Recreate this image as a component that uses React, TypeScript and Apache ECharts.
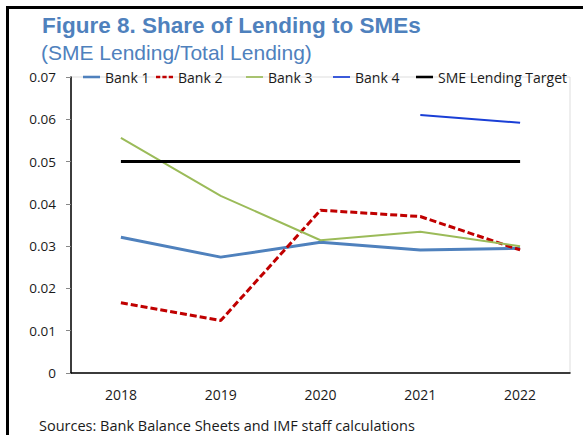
import React, { useEffect, useRef } from "react";
import * as echarts from "echarts";

const years = ["2018", "2019", "2020", "2021", "2022"];
const bank1 = [0.0321, 0.0274, 0.0309, 0.0291, 0.0295];
const bank2 = [0.0166, 0.0124, 0.0385, 0.0370, 0.0291];
const bank3 = [0.0556, 0.0419, 0.0314, 0.0334, 0.0300];
const bank4 = [null, null, null, 0.0610, 0.0592];
const target = [0.05, 0.05, 0.05, 0.05, 0.05];
const seriesNames = ["Bank 1", "Bank 2", "Bank 3", "Bank 4", "SME Lending Target"];

const FONT = "'Open Sans', 'Noto Sans', sans-serif";

export default function App() {
  const ref = useRef<HTMLDivElement>(null);
  useEffect(() => {
    if (!ref.current) return;
    const chart = echarts.init(ref.current, null, { renderer: "svg" });
    const line = (name: string, data: any[], color: string, width: number, type: any = "solid") => ({
      name,
      type: "line",
      data,
      symbol: "none",
      showSymbol: false,
      lineStyle: { color, width, type },
      itemStyle: { color },
      connectNulls: false,
    });
    const solid = "path://M0,0h20v3H0z";
    const thin = "path://M0,0h20v2H0z";
    const dashed = "path://M0,0h5v3H0zM7.5,0h5v3h-5zM15,0h5v3h-5z";
    const legendLefts = [83, 156, 246, 333, 416];
    const legendIcons = [solid, dashed, thin, thin, solid];
    const legends = seriesNames.map((n, i) => ({
      data: [n],
      left: legendLefts[i],
      top: 70,
      padding: 0,
      itemWidth: 17,
      itemHeight: legendIcons[i] === thin ? 2 : 3,
      icon: legendIcons[i],
      selectedMode: false,
      textStyle: { fontFamily: FONT, fontSize: 14, color: "#1a1a1a" },
    }));
    chart.setOption({
      animation: false,
      backgroundColor: "#ffffff",
      title: [
        {
          text: "Figure 8. Share of Lending to SMEs",
          left: 37,
          top: 9,
          textStyle: { fontFamily: "'Liberation Sans', Arial, sans-serif", fontWeight: "bold", fontSize: 22.5, color: "#4f81bd" },
        },
        {
          text: "(SME Lending/Total Lending)",
          left: 36,
          top: 37,
          textStyle: { fontFamily: "'Liberation Sans', Arial, sans-serif", fontWeight: "normal", fontSize: 21, color: "#4f81bd" },
        },
      ],
      legend: legends,
      grid: {
        left: 71,
        right: 13,
        top: 77,
        bottom: 62,
        show: true,
        borderColor: "#dddddd",
        borderWidth: 1,
        backgroundColor: "transparent",
      },
      xAxis: {
        type: "category",
        data: years,
        boundaryGap: true,
        axisLine: { lineStyle: { color: "#000", width: 1.5 } },
        axisTick: { inside: true, length: 4, lineStyle: { color: "#888" } },
        axisLabel: { fontFamily: FONT, fontSize: 14, color: "#1a1a1a", margin: 14 },
        splitLine: { show: false },
      },
      yAxis: {
        type: "value",
        min: 0,
        max: 0.07,
        interval: 0.01,
        axisLine: { show: true, lineStyle: { color: "#000", width: 1.5 } },
        axisTick: { show: true, length: 5, lineStyle: { color: "#888" } },
        axisLabel: {
          fontFamily: FONT,
          fontSize: 13.5,
          color: "#1a1a1a",
          margin: 15,
          formatter: (v: number) => (v === 0 ? "0" : v.toFixed(2)),
        },
        splitLine: { show: false },
      },
      graphic: [
        { type: "rect", shape: { x: 6, y: 6, width: 3, height: 429 }, style: { fill: "#000" } },
        { type: "rect", shape: { x: 6, y: 6, width: 577, height: 3 }, style: { fill: "#000" } },
        {
          type: "text",
          left: 39,
          top: 418,
          style: { text: "Sources: Bank Balance Sheets and IMF staff calculations", font: `14.5px ${FONT}`, fill: "#1a1a1a" },
        },
      ],
      series: [
        line("Bank 1", bank1, "#4f81bd", 3),
        line("Bank 2", bank2, "#c00000", 3, [7, 3]),
        line("Bank 3", bank3, "#9bbb59", 2),
        line("Bank 4", bank4, "#1a3fd6", 2),
        line("SME Lending Target", target, "#000000", 3),
      ],
    });
    return () => chart.dispose();
  }, []);
  return <div ref={ref} style={{ position: "absolute", left: 0, top: 0, width: 583, height: 435 }} />;
}
